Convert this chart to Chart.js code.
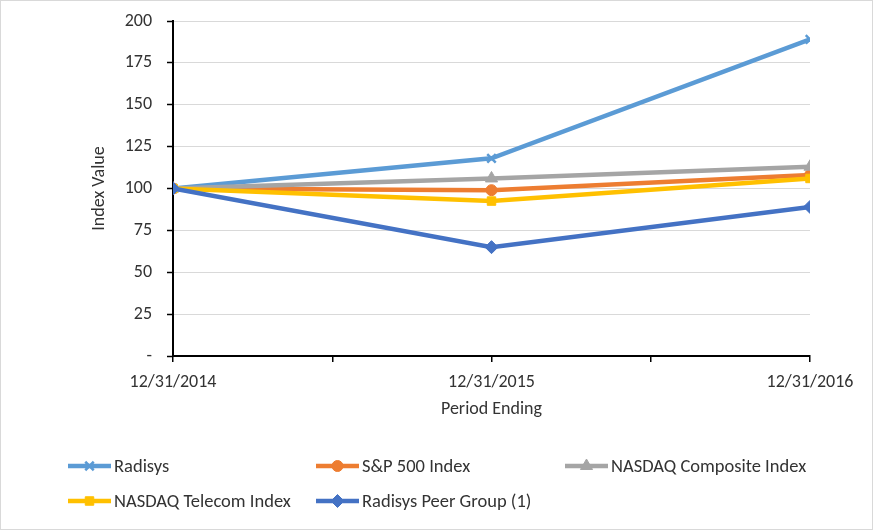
<!DOCTYPE html>
<html>
<head>
<meta charset="utf-8">
<script src="https://cdn.jsdelivr.net/npm/chart.js@4"></script>
<style>
html,body{margin:0;padding:0;background:#fff;}
#wrap{width:873px;height:530px;position:relative;}
</style>
</head>
<body>
<div id="wrap"><canvas id="c" width="873" height="530"></canvas></div>
<script>
const categories = ['12/31/2014', '12/31/2015', '12/31/2016'];
const seriesNames = ['Radisys', 'S&P 500 Index', 'NASDAQ Composite Index', 'NASDAQ Telecom Index', 'Radisys Peer Group (1)'];
const radisys = [100, 118, 189];
const sp500 = [100, 99, 108];
const nasdaqComposite = [100, 106, 113];
const nasdaqTelecom = [100, 92.5, 106];
const peerGroup = [100, 65, 89];
const yTicks = [0, 25, 50, 75, 100, 125, 150, 175, 200];

const FONT = 'Carlito, Calibri, Lato, "Liberation Sans", sans-serif';
const TEXT = '#333333';
const colors = ['#5B9BD5', '#ED7D31', '#A5A5A5', '#FFC000', '#4472C4'];
const styles = ['crossRot', 'circle', 'triangle', 'rect', 'rectRot'];
const radii = [6, 5.5, 7, 6, 6.5];
const allValues = [radisys, sp500, nasdaqComposite, nasdaqTelecom, peerGroup];

const datasets = allValues.map((vals, i) => ({
  label: seriesNames[i],
  data: vals.map((v, k) => ({x: k, y: v})),
  borderColor: colors[i],
  backgroundColor: colors[i],
  pointBackgroundColor: colors[i],
  pointBorderColor: colors[i],
  pointStyle: styles[i],
  pointRadius: radii[i],
  pointBorderWidth: styles[i] === 'crossRot' ? 2.5 : 1,
  borderWidth: 4.5,
  tension: 0,
  order: allValues.length - i
}));

const decor = {
  id: 'decor',
  afterDraw(chart) {
    const ctx = chart.ctx;
    ctx.save();
    // outer border
    ctx.strokeStyle = '#d9d9d9';
    ctx.lineWidth = 1;
    ctx.strokeRect(0.5, 0.5, 872, 529);
    // legend
    const colX = [68, 316, 565];
    const rowY = [466, 501];
    chart.data.datasets.forEach((ds, i) => {
      const x0 = colX[i % 3];
      const y = rowY[Math.floor(i / 3)];
      ctx.strokeStyle = ds.borderColor;
      ctx.lineWidth = 4.5;
      ctx.beginPath();
      ctx.moveTo(x0, y);
      ctx.lineTo(x0 + 43, y);
      ctx.stroke();
      ctx.fillStyle = ds.borderColor;
      ctx.strokeStyle = ds.borderColor;
      ctx.lineWidth = ds.pointBorderWidth;
      Chart.helpers.drawPoint(ctx, {pointStyle: ds.pointStyle, radius: ds.pointRadius, rotation: 0, borderWidth: ds.pointBorderWidth}, x0 + 21.5, y);
      ctx.fillStyle = TEXT;
      ctx.font = '18.5px ' + FONT;
      ctx.textBaseline = 'middle';
      ctx.textAlign = 'left';
      ctx.fillText(ds.label, x0 + 46, y + 1);
    });
    ctx.restore();
  }
};

new Chart(document.getElementById('c'), {
  type: 'line',
  data: {datasets},
  options: {
    responsive: false,
    animation: false,
    events: [],
    layout: {padding: {left: 86, right: 63, top: 21, bottom: 110}},
    plugins: {legend: {display: false}, tooltip: {enabled: false}},
    scales: {
      x: {
        type: 'linear',
        min: 0, max: categories.length - 1,
        afterBuildTicks(scale) {
          const t = [];
          for (let v = 0; v <= categories.length - 1 + 1e-9; v += 0.5) t.push({value: v});
          scale.ticks = t;
        },
        afterFit(scale) { scale.height = 64; },
        ticks: {
          autoSkip: false, maxRotation: 0, padding: 10,
          color: TEXT, font: {family: FONT, size: 18},
          callback: (v) => Number.isInteger(v) ? categories[v] : ''
        },
        grid: {drawOnChartArea: false, drawTicks: true, tickLength: 6, color: '#000', tickColor: '#000', lineWidth: 1.5},
        border: {color: '#000', width: 2},
        title: {display: true, text: 'Period Ending', color: TEXT, font: {family: FONT, size: 18}, padding: {top: 0, bottom: 0}}
      },
      y: {
        min: 0, max: 200,
        afterBuildTicks(scale) { scale.ticks = yTicks.map(v => ({value: v})); },
        afterFit(scale) { scale.width = 87; scale.paddingTop = 0; scale.paddingBottom = 0; },
        ticks: {
          padding: 15, color: TEXT, font: {family: FONT, size: 18},
          callback: (v) => v === 0 ? '-' : String(v)
        },
        grid: {color: '#d9d9d9', lineWidth: 1, tickLength: 6, tickColor: '#000', tickWidth: 1.5},
        border: {color: '#000', width: 2},
        title: {display: true, text: 'Index Value', color: TEXT, font: {family: FONT, size: 18}, padding: {top: 3, bottom: 3}}
      }
    }
  },
  plugins: [decor]
});
</script>
</body>
</html>
